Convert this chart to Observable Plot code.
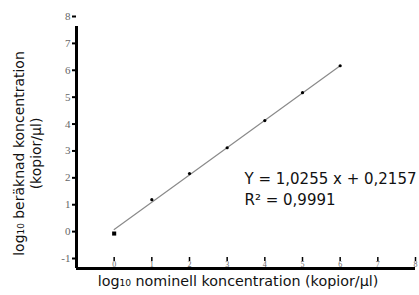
<!DOCTYPE html>
<html>
<head>
<meta charset="utf-8">
<script src="https://cdn.jsdelivr.net/npm/d3@7"></script>
<script src="https://cdn.jsdelivr.net/npm/@observablehq/plot@0.6"></script>
<style>
  body { margin: 0; background: #fff; }
  #chart svg { display: block; }
</style>
</head>
<body>
<div id="chart"></div>
<script>
// Data
const nominal = [0, 1, 2, 3, 4, 5, 6];
const measured = [0.30, 1.56, 2.53, 3.49, 4.50, 5.54, 6.54];
const fitX = [0, 6];
const fitY = [0.45, 6.54];
const xTicks = [0, 1, 2, 3, 4, 5, 6, 7, 8];
const yTicks = [-1, 0, 1, 2, 3, 4, 5, 6, 7, 8];
const equationText = ["Y = 1,0255 x + 0,2157\nR² = 0,9991"];
const xTitle = ["log₁₀ nominell koncentration (kopior/µl)"];
const yTitle = ["log₁₀ beräknad koncentration\n(kopior/µl)"];

const points = nominal.map((x, i) => ({x, y: measured[i]}));
const fit = fitX.map((x, i) => ({x, y: fitY[i]}));

const sans = "'DejaVu Sans', Lato, sans-serif";
const serif = "'Liberation Serif', 'DejaVu Serif', serif";

const chart = Plot.plot({
  width: 419,
  height: 295,
  marginLeft: 76,
  marginRight: 4,
  marginTop: 26,
  marginBottom: 27,
  x: {domain: [-1, 8]},
  y: {domain: [-1, 8]},
  style: {background: "#fff", overflow: "visible"},
  marks: [
    Plot.axisY({ticks: yTicks, tickSize: 4, tickPadding: 2, tickFormat: d => d, dy: -10,
      fontFamily: serif, fontSize: 11, fill: "#666", stroke: "#000", strokeWidth: 2, label: null}),
    Plot.axisX({ticks: xTicks, tickSize: 4, tickPadding: 0, tickFormat: d => d, dy: -11,
      fontFamily: serif, fontSize: 8, fill: "#666", stroke: "#000", strokeWidth: 1.5, label: null}),
    Plot.ruleY([-1], {stroke: "#000", strokeWidth: 3}),
    Plot.ruleX([-1], {stroke: "#000", strokeWidth: 3}),
    Plot.line(fit, {x: "x", y: "y", stroke: "#8a8a8a", strokeWidth: 1.2}),
    Plot.dot(points.slice(1), {x: "x", y: "y", r: 1.6, fill: "#000", stroke: "none"}),
    Plot.dot(points.slice(0, 1), {x: "x", y: "y", r: 2.3, symbol: "square", fill: "#000", stroke: "none"}),
    Plot.text(equationText, {frameAnchor: "top-left", dx: 168, dy: 161, textAnchor: "start", lineAnchor: "middle",
      lineHeight: 1.4, fontSize: 15, fontFamily: sans, fill: "#111"}),
    Plot.text(xTitle, {frameAnchor: "bottom", dx: -8, dy: 17, fontSize: 14.3, fontFamily: sans, fill: "#111"}),
    Plot.text(yTitle, {frameAnchor: "left", dx: -49, dy: 6, rotate: -90, textAnchor: "middle", lineAnchor: "middle",
      lineHeight: 1.2, fontSize: 14, fontFamily: sans, fill: "#111"})
  ]
});
document.getElementById("chart").append(chart);
</script>
</body>
</html>
